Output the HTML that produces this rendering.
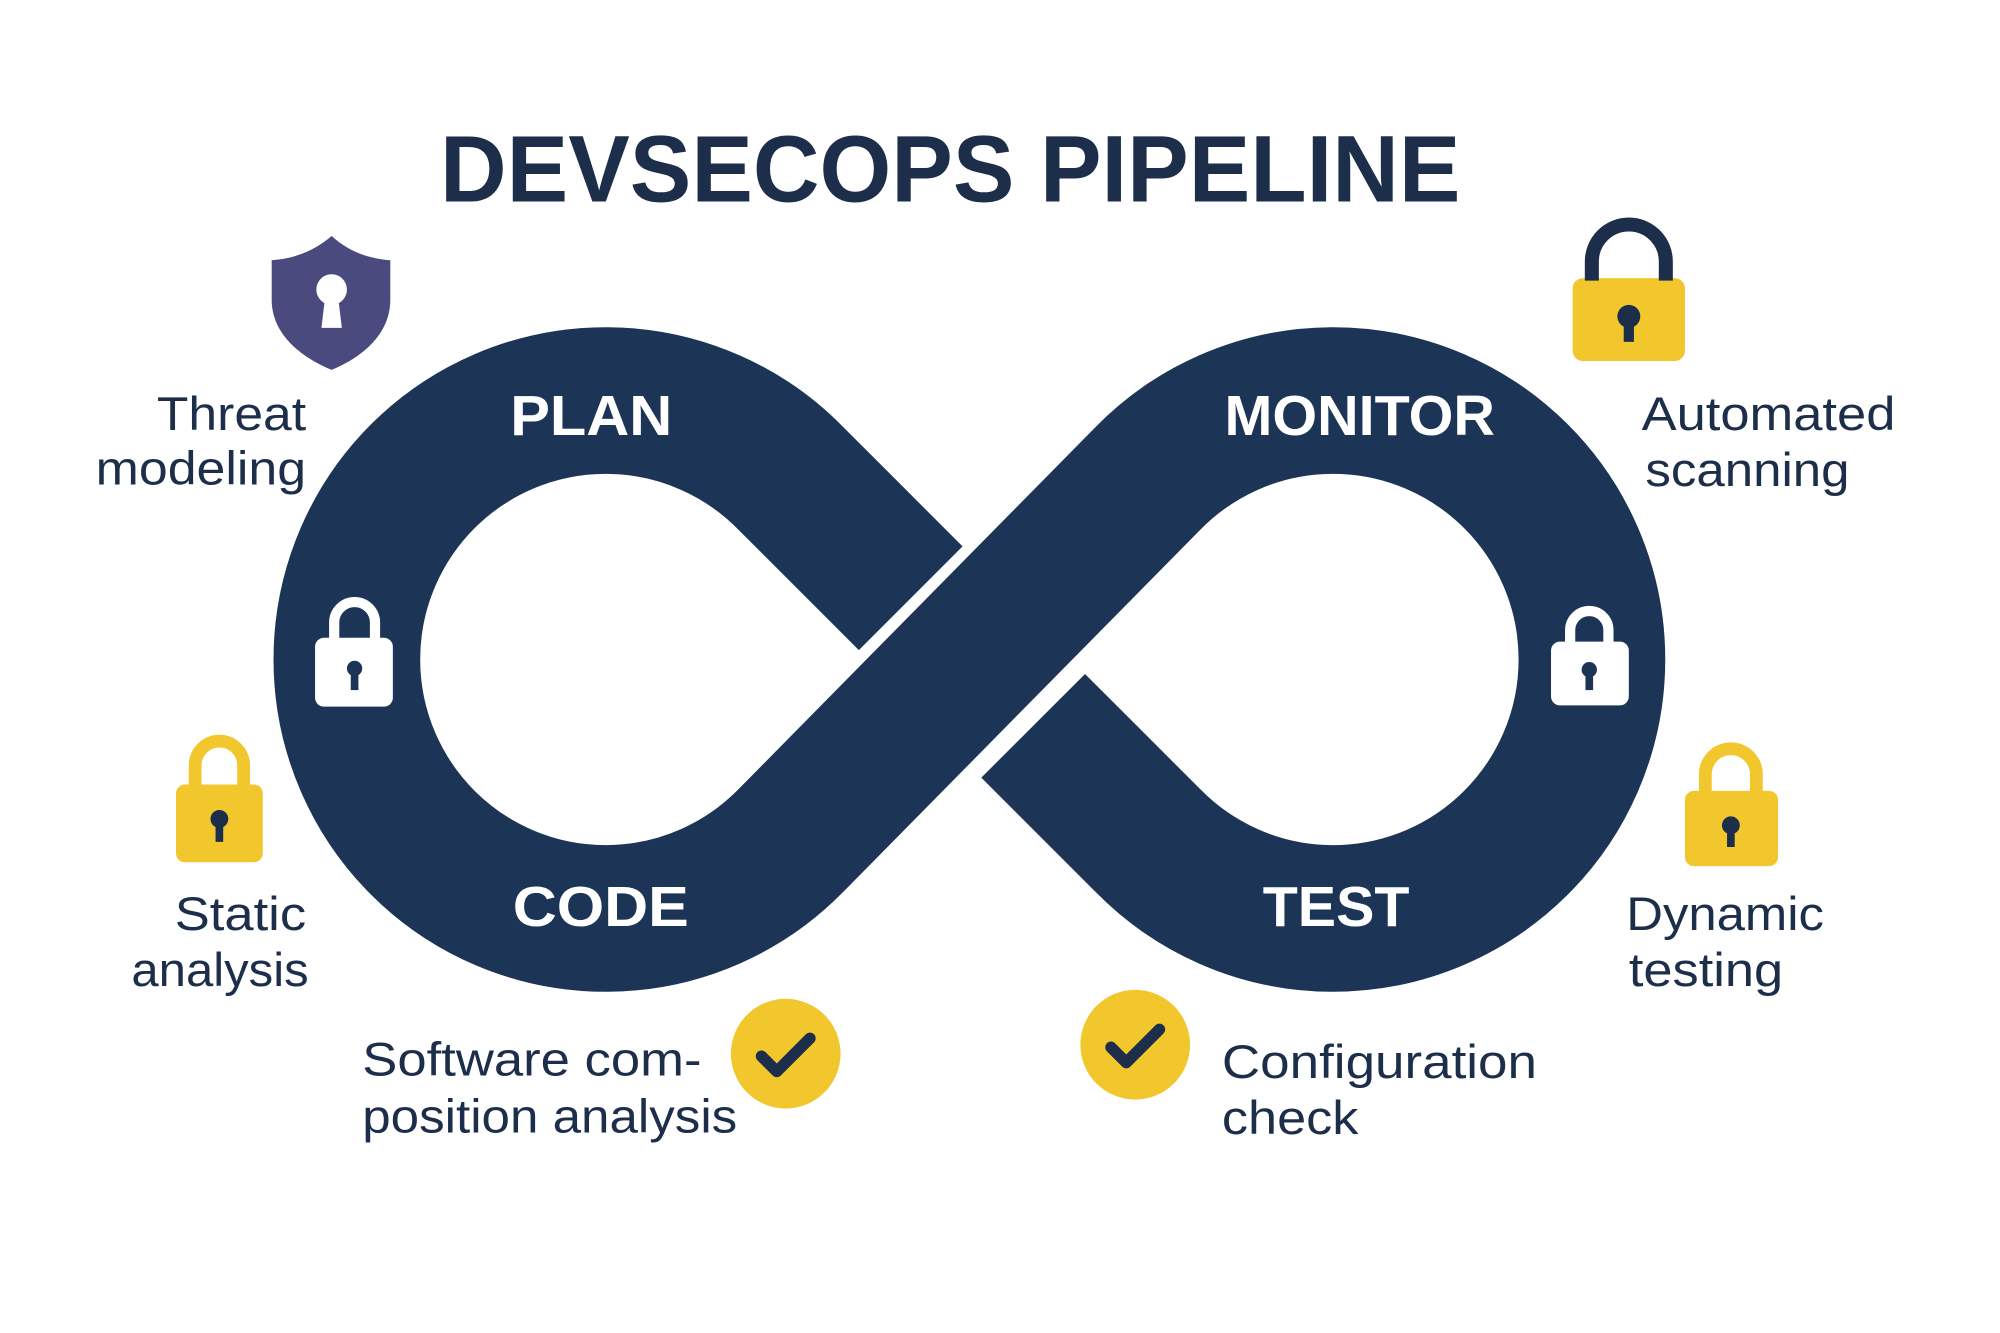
<!DOCTYPE html>
<html><head><meta charset="utf-8"><style>
html,body{margin:0;padding:0;background:#fff;}
svg{display:block;}
text{font-family:"Liberation Sans",sans-serif;}
</style></head><body>
<svg width="2000" height="1333" viewBox="0 0 1568 1045" preserveAspectRatio="none" xmlns="http://www.w3.org/2000/svg">
<rect width="1568" height="1045" fill="#fff"/>
<text x="745" y="158" text-anchor="middle" font-size="74" font-weight="bold" fill="#1c2e4a" textLength="800" lengthAdjust="spacingAndGlyphs">DEVSECOPS PIPELINE</text>
<path d="M714,469 L620,375 A203 203 0 1 0 620,659 L900,375 A203 203 0 1 1 900,659 L810,569" fill="none" stroke="#1c3557" stroke-width="115" stroke-linecap="butt" stroke-linejoin="round"/>
<g font-weight="bold" fill="#fff" font-size="44" lengthAdjust="spacingAndGlyphs">
<text x="400" y="341" textLength="127" lengthAdjust="spacingAndGlyphs">PLAN</text>
<text x="960" y="341" textLength="212" lengthAdjust="spacingAndGlyphs">MONITOR</text>
<text x="402" y="726" textLength="138" lengthAdjust="spacingAndGlyphs">CODE</text>
<text x="990" y="726" textLength="115" lengthAdjust="spacingAndGlyphs">TEST</text>
</g>
<g font-size="37" fill="#1c2e4a">
<text x="123" y="337" textLength="117" lengthAdjust="spacingAndGlyphs">Threat</text>
<text x="75" y="380" textLength="165" lengthAdjust="spacingAndGlyphs">modeling</text>
<text x="137" y="729" textLength="103" lengthAdjust="spacingAndGlyphs">Static</text>
<text x="103" y="773" textLength="139" lengthAdjust="spacingAndGlyphs">analysis</text>
<text x="1287" y="337" textLength="199" lengthAdjust="spacingAndGlyphs">Automated</text>
<text x="1290" y="381" textLength="160" lengthAdjust="spacingAndGlyphs">scanning</text>
<text x="1275" y="729" textLength="155" lengthAdjust="spacingAndGlyphs">Dynamic</text>
<text x="1277" y="773" textLength="121" lengthAdjust="spacingAndGlyphs">testing</text>
<text x="284" y="843" textLength="266" lengthAdjust="spacingAndGlyphs">Software com-</text>
<text x="284" y="888" textLength="294" lengthAdjust="spacingAndGlyphs">position analysis</text>
<text x="958" y="845" textLength="247" lengthAdjust="spacingAndGlyphs">Configuration</text>
<text x="958" y="889" textLength="107" lengthAdjust="spacingAndGlyphs">check</text>
</g>
<!-- shield -->
<path d="M260,185 C245,198 228,203 213,204 L213,235 C213,262 236,280 260,290 C284,280 306,262 306,235 L306,204 C291,203 274,198 260,185 Z" fill="#4a4a7e"/>
<circle cx="260" cy="227" r="12" fill="#fff"/><path d="M255,232 L265,232 L268,257 L252,257 Z" fill="#fff"/>
<!-- yellow locks -->
<g fill="#f2c72e" stroke="none">
<rect x="1233" y="218" width="88" height="65" rx="8"/>
<rect x="138" y="615" width="68" height="61" rx="7"/>
<rect x="1321" y="620" width="73" height="59" rx="7"/>
</g>
<g fill="none" stroke="#1c2e4a">
<path d="M1248,220 L1248,205 A29 29 0 0 1 1306,205 L1306,220" stroke-width="11"/>
</g>
<g fill="none" stroke="#f2c72e">
<path d="M153,617 L153,600 A19 19 0 0 1 191,600 L191,617" stroke-width="10"/>
<path d="M1337,622 L1337,607 A20 20 0 0 1 1377,607 L1377,622" stroke-width="10"/>
</g>
<g fill="#1c2e4a">
<circle cx="1277" cy="248" r="9"/><rect x="1273" y="250" width="8" height="18"/>
<circle cx="172" cy="642" r="7"/><rect x="169" y="644" width="6" height="16"/>
<circle cx="1357" cy="647" r="7"/><rect x="1354" y="649" width="6" height="15"/>
</g>
<!-- white locks -->
<g fill="#fff">
<rect x="247" y="500" width="61" height="54" rx="7"/>
<rect x="1216" y="503" width="61" height="50" rx="7"/>
</g>
<g fill="none" stroke="#fff" stroke-width="8">
<path d="M262,502 L262,488 A16 16 0 0 1 294,488 L294,502"/>
<path d="M1231,505 L1231,494 A15 15 0 0 1 1261,494 L1261,505"/>
</g>
<g fill="#1c3557">
<circle cx="278" cy="524" r="6"/><rect x="275" y="526" width="6" height="15"/>
<circle cx="1246" cy="525" r="6"/><rect x="1243" y="527" width="6" height="14"/>
</g>
<!-- checks -->
<circle cx="616" cy="826" r="43" fill="#f2c72e"/>
<circle cx="890" cy="819" r="43" fill="#f2c72e"/>
<g fill="none" stroke="#1c2e4a" stroke-width="9" stroke-linecap="round" stroke-linejoin="round">
<path d="M597,828 L609,840 L635,814"/>
<path d="M871,821 L883,833 L909,807"/>
</g>
</svg>
</body></html>
